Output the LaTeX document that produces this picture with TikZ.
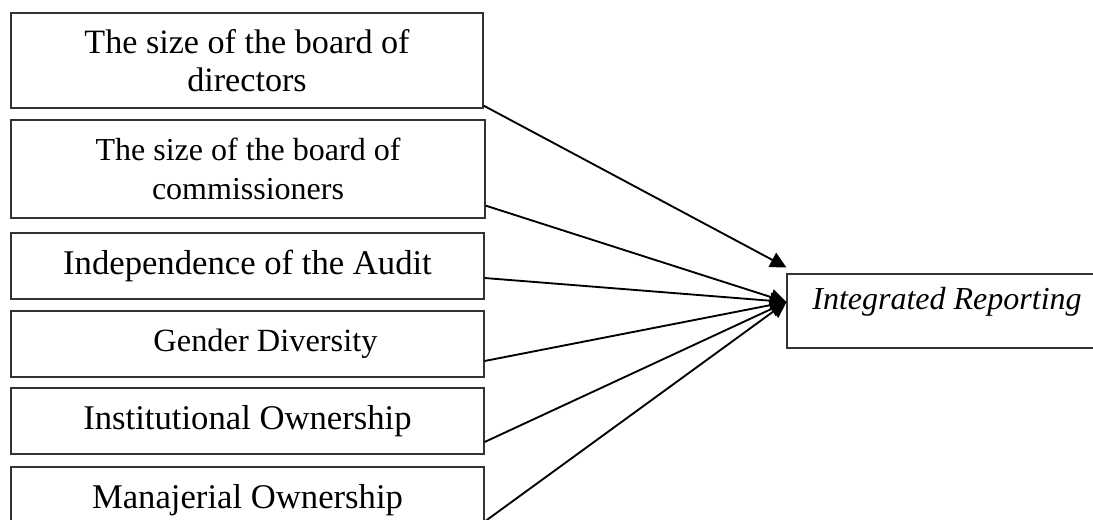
\documentclass[tikz,border=0pt]{standalone}
\usepackage{fontspec}
\setmainfont{Liberation Serif}
\usetikzlibrary{arrows.meta}
\tikzset{
  varbox/.style={draw=black!80, line width=0.9pt, inner sep=0pt, align=center,
    minimum width=354.75pt},
  arr/.style={line width=1.4pt, -{Triangle[length=12pt,width=12pt]}}
}
\begin{document}
\begin{tikzpicture}[x=0.75pt,y=-0.75pt]
\useasboundingbox (0,0) rectangle (1093,519);
\node[varbox, minimum width=354pt, minimum height=71.25pt,
  font=\fontsize{25.6}{29}\selectfont] (b1) at (247,60.5)
  {The size of the board of\\directors};
\node[varbox, minimum width=355.5pt, minimum height=73.5pt,
  font=\fontsize{24}{29}\selectfont] (b2) at (248,169)
  {The size of the board of\\commissioners};
\node[varbox, minimum height=49.5pt, font=\fontsize{26}{28.5}\selectfont] (b3) at (247.5,266)
  {Independence of the Audit};
\node[varbox, minimum height=49.5pt, font=\fontsize{24.3}{28.5}\selectfont] (b4) at (247.5,344)
  {\hspace*{27pt}Gender Diversity};
\node[varbox, minimum height=49.5pt, font=\fontsize{26}{28.5}\selectfont] (b5) at (247.5,421)
  {Institutional Ownership};
\node[varbox, minimum height=49.5pt, font=\fontsize{26}{28.5}\selectfont] (b6) at (247.5,500)
  {Manajerial Ownership};
\node[draw=black!80, line width=0.9pt, inner sep=0pt, minimum width=234.75pt,
  minimum height=55.5pt] (irbox) at (943.5,311) {};
\node[inner sep=0pt, font=\fontsize{24}{28}\selectfont\itshape] (irtext) at (947,302)
  {Integrated Reporting};
\coordinate (tip1) at ([yshift=4.5pt]irbox.north west);
\coordinate (tip) at (irbox.west |- irtext.center);
\draw[arr] ([yshift=2.25pt]b1.south east) -- (tip1);
\draw[arr] ([yshift=9.75pt]b2.south east) -- (tip);
\draw[arr] ([yshift=-9pt]b3.east) -- (tip);
\draw[arr] ([yshift=-12.75pt]b4.east) -- (tip);
\draw[arr] ([yshift=-15.75pt]b5.east) -- (tip);
\draw[arr] ([yshift=-16.2pt]b6.east) -- (tip);
\end{tikzpicture}
\end{document}
